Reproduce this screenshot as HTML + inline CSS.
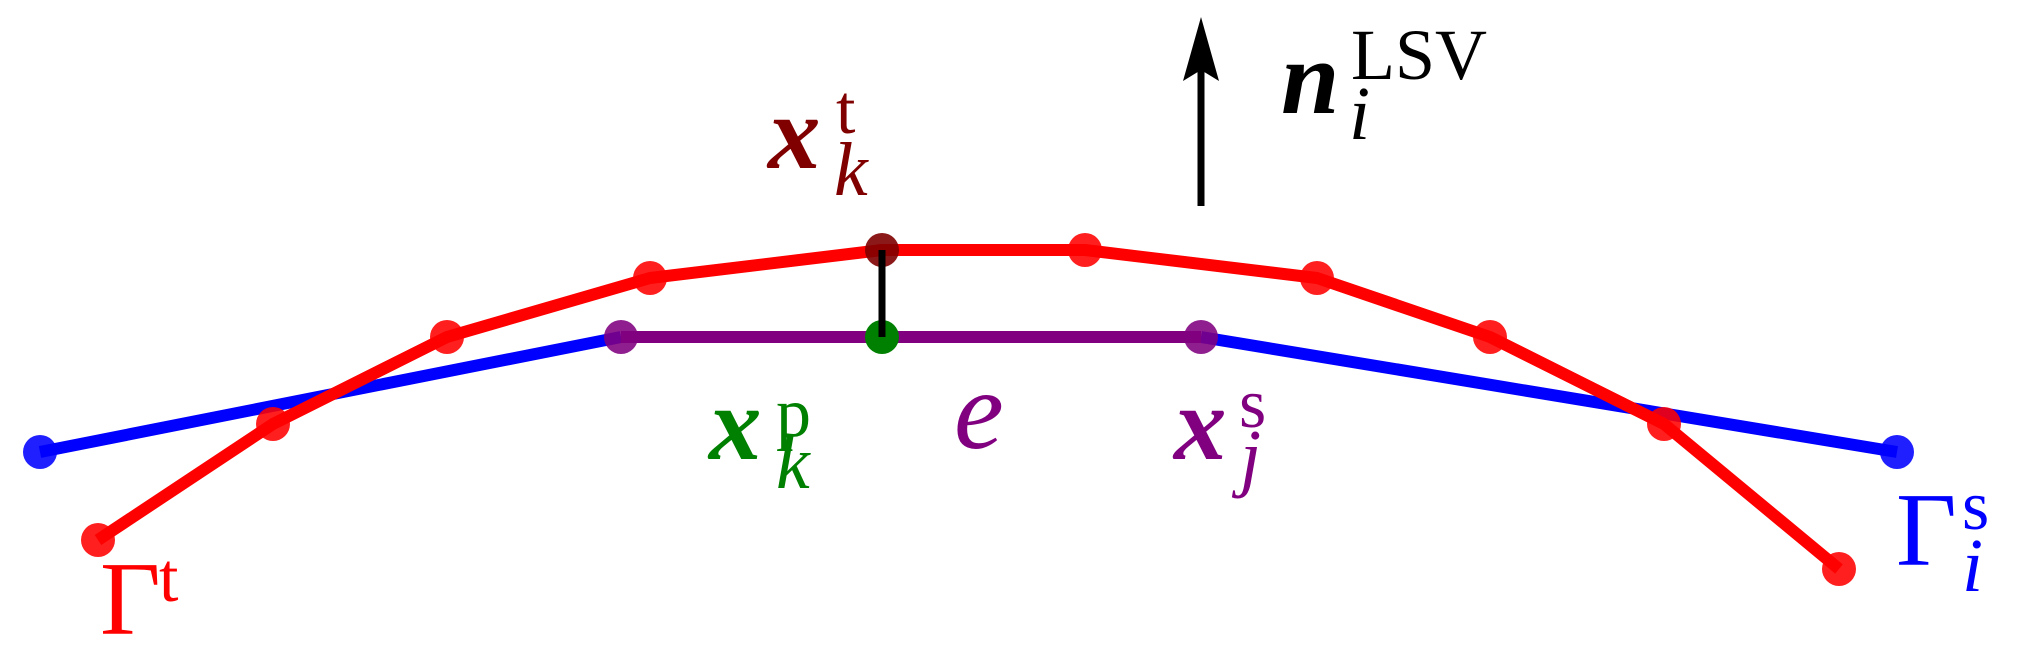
<!DOCTYPE html>
<html><head><meta charset="utf-8"><style>
html,body{margin:0;padding:0;background:#fff;}
svg{display:block;}
</style></head><body>
<svg width="2018" height="669" viewBox="0 0 2018 669" xmlns="http://www.w3.org/2000/svg" font-family="Liberation Serif, DejaVu Serif, serif">
<polyline points="40,452 621,337" fill="none" stroke="#0000ff" stroke-width="12"/>
<polyline points="1201,337 1897,452" fill="none" stroke="#0000ff" stroke-width="12"/>
<line x1="621" y1="337" x2="1201" y2="337" stroke="#800080" stroke-width="12"/>
<polyline points="98,540 273,424 447,337 650,278 882,250 1085,250 1317,278 1490,337 1664,424 1839,569" fill="none" stroke="#ff0000" stroke-width="12" stroke-linejoin="round"/>
<g fill="#ff0000" fill-opacity="0.88">
<circle cx="98" cy="540" r="17"/><circle cx="273" cy="424" r="17"/><circle cx="447" cy="337" r="17"/>
<circle cx="650" cy="278" r="17"/><circle cx="1085" cy="250" r="17"/><circle cx="1317" cy="278" r="17"/>
<circle cx="1490" cy="337" r="17"/><circle cx="1664" cy="424" r="17"/><circle cx="1839" cy="569" r="17"/>
</g>
<circle cx="40" cy="452" r="17" fill="#0000ff" fill-opacity="0.88"/>
<circle cx="1897" cy="452" r="17" fill="#0000ff" fill-opacity="0.88"/>
<circle cx="621" cy="337" r="17" fill="#800080" fill-opacity="0.88"/>
<circle cx="1201" cy="337" r="17" fill="#800080" fill-opacity="0.88"/>
<circle cx="882" cy="250" r="17" fill="#800000" fill-opacity="0.9"/>
<circle cx="882" cy="337" r="17" fill="#008000"/>
<line x1="882" y1="250" x2="882" y2="337" stroke="#000" stroke-width="7"/>
<line x1="1201" y1="206" x2="1201" y2="70" stroke="#000" stroke-width="7"/>
<polygon points="1201,17 1183,81 1201,70 1219,81" fill="#000"/>

<text x="768" y="168" font-size="105" font-weight="bold" font-style="italic" fill="#800000">x</text>
<text x="836" y="133" font-size="70" fill="#800000">t</text>
<text x="834" y="195" font-size="76" font-style="italic" fill="#800000">k</text>

<text x="709" y="459" font-size="105" font-weight="bold" font-style="italic" fill="#008000">x</text>
<text x="776" y="436" font-size="70" fill="#008000">p</text>
<text x="776" y="488" font-size="76" font-style="italic" fill="#008000">k</text>

<text x="954" y="448" font-size="112" font-style="italic" fill="#800080">e</text>

<text x="1174" y="459" font-size="105" font-weight="bold" font-style="italic" fill="#800080">x</text>
<text x="1239" y="427" font-size="70" fill="#800080">s</text>
<text x="1240" y="482" font-size="76" font-style="italic" fill="#800080">j</text>

<text x="100" y="634" font-size="105" fill="#ff0000">Γ</text>
<text x="159" y="601" font-size="70" fill="#ff0000">t</text>

<text x="1896" y="565" font-size="105" fill="#0000ff">Γ</text>
<text x="1962" y="529" font-size="70" fill="#0000ff">s</text>
<text x="1962" y="591" font-size="76" font-style="italic" fill="#0000ff">i</text>

<text x="1281" y="113" font-size="105" font-weight="bold" font-style="italic" fill="#000">n</text>
<text x="1351" y="79" font-size="72" fill="#000">LSV</text>
<text x="1349" y="139" font-size="76" font-style="italic" fill="#000">i</text>
</svg>
</body></html>
